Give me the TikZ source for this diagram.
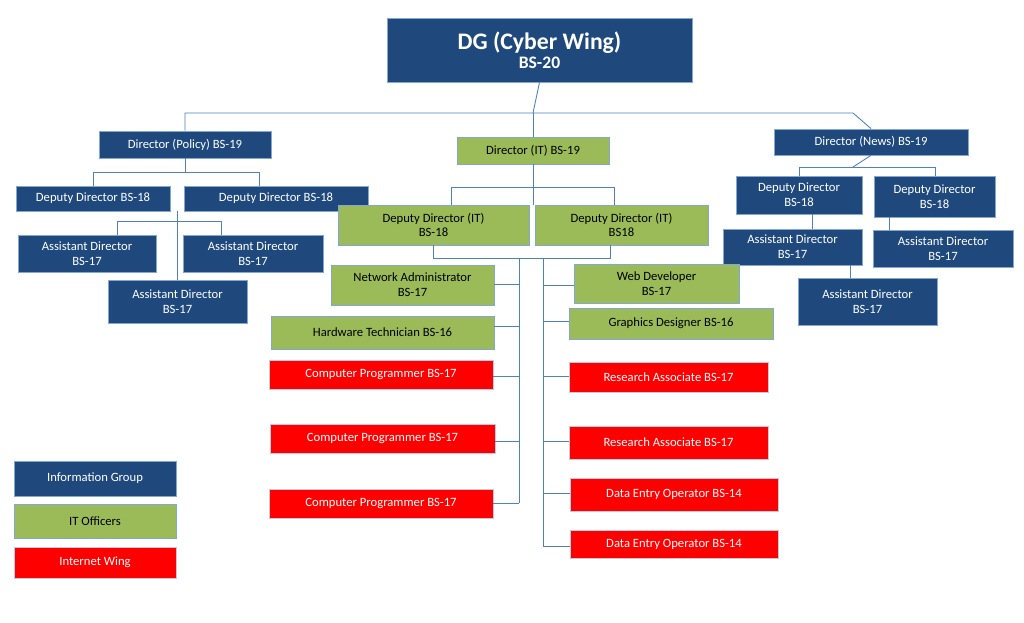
\documentclass[tikz,border=0pt]{standalone}
\usepackage{fontspec}
\setmainfont{Carlito}
\begin{document}
\definecolor{db}{HTML}{1F497D}
\definecolor{gr}{HTML}{9BBB59}
\definecolor{rd}{HTML}{FF0000}
\definecolor{ln}{HTML}{4F81BD}
\begin{tikzpicture}[x=0.02cm,y=-0.02cm,
  base/.style={rectangle,inner sep=0pt,align=center,font=\fontsize{7.2}{8.4}\selectfont},
  blue/.style={base,fill=db,draw=ln!70!white,text=white},
  green/.style={base,fill=gr,draw=ln!70!white,text=black},
  red/.style={base,fill=rd,draw=ln!40!white,text=white},
  con/.style={draw=ln,line width=0.5pt}]
\useasboundingbox[fill=white] (0,0) rectangle (1024,622);
\newcommand\bx[7]{\node[#6,minimum width={(#4-#2)*0.02cm},minimum height={(#5-#3)*0.02cm}] (#1) at ({(#2+#4)/2},{(#3+#5)/2}) {#7};}
\bx{dg}{387}{18}{692}{82}{blue}{{\fontsize{13.5}{15}\selectfont\bfseries DG (Cyber Wing)}\\[1pt]{\fontsize{10}{12}\selectfont\bfseries BS-20}}
\bx{dp}{99}{131}{271}{158}{blue}{Director (Policy) BS-19}
\bx{dit}{457}{137}{609}{164}{green}{Director (IT) BS-19}
\bx{dn}{774}{129}{968}{155}{blue}{Director (News) BS-19}
\bx{pd1}{16}{186}{170}{211}{blue}{Deputy Director BS-18}
\bx{pd2}{184}{186}{368}{211}{blue}{Deputy Director BS-18}
\bx{pa1}{18}{235}{156}{272}{blue}{Assistant Director\\BS-17}
\bx{pa2}{183}{235}{323}{272}{blue}{Assistant Director\\BS-17}
\bx{pa3}{108}{280}{247}{323}{blue}{Assistant Director\\BS-17}
\bx{id1}{338}{205}{529}{245}{green}{Deputy Director (IT)\\BS-18}
\bx{id2}{535}{205}{708}{245}{green}{Deputy Director (IT)\\BS18}
\bx{nd1}{736}{176}{862}{214}{blue}{Deputy Director\\BS-18}
\bx{nd2}{874}{176}{995}{217}{blue}{Deputy Director\\BS-18}
\bx{na1}{723}{229}{862}{265}{blue}{Assistant Director\\BS-17}
\bx{na2}{873}{230}{1013}{267}{blue}{Assistant Director\\BS-17}
\bx{na3}{798}{278}{937}{325}{blue}{Assistant Director\\BS-17}
\bx{l1}{331}{265}{494}{305}{green}{Network Administrator\\BS-17}
\bx{l2}{271}{316}{494}{349}{green}{Hardware Technician BS-16}
\bx{l3}{269}{360}{493}{389}{red}{Computer Programmer BS-17}
\bx{l4}{270}{424}{495}{453}{red}{Computer Programmer BS-17}
\bx{l5}{269}{489}{493}{518}{red}{Computer Programmer BS-17}
\bx{r1}{574}{264}{739}{303}{green}{Web Developer\\BS-17}
\bx{r2}{569}{308}{773}{339}{green}{Graphics Designer BS-16}
\bx{r3}{569}{362}{768}{392}{red}{Research Associate BS-17}
\bx{r4}{569}{426}{768}{459}{red}{Research Associate BS-17}
\bx{r5}{570}{478}{778}{511}{red}{Data Entry Operator BS-14}
\bx{r6}{570}{530}{778}{558}{red}{Data Entry Operator BS-14}
\bx{g1}{14}{461}{176}{496}{blue}{Information Group}
\bx{g2}{14}{504}{176}{538}{green}{IT Officers}
\bx{g3}{14}{547}{176}{578}{red}{Internet Wing}
% top
\draw[con] (dg.south) -- (533,113) coordinate (t);
\draw[con] (dp.north) -- (185,113) -- (853,113) -- (dn.north);
\draw[con] (t) -- (dit.north);
\draw[con] (dit.south) -- (533,205);
\draw[con] (id1.north -| 451,0) -- (451,187) -- (614,187) -- (id2.north -| 614,0);
% policy
\draw[con] (dp.south) -- (185,172);
\draw[con] (pd1.north -| 93,0) -- (93,172) -- (259,172) -- (pd2.north -| 259,0);
\draw[con] (pa1.north -| 117,0) -- (117,221) -- (221,221) -- (pa2.north -| 221,0);
\draw[con] (177,211) -- (pa3.north -| 177,0);
% news
\draw[con] (dn.south) -- (853,167);
\draw[con] (nd1.north -| 799,0) -- (799,167) -- (935,167) -- (nd2.north -| 935,0);
\draw[con] (nd1.south -| 812,0) -- (na1.north -| 812,0);
\draw[con] (nd2.south -| 889,0) -- (na2.north -| 889,0);
\draw[con] (na1.south -| 850,0) -- (na3.north -| 850,0);
% IT staff
\draw[con] (id1.south -| 433,0) -- (433,258) -- (610,258) -- (id2.south -| 610,0);
\draw[con] (519,258) -- (519,503) coordinate (lb);
\draw[con] (543,258) -- (543,546) coordinate (rb);
\foreach \n/\y in {l1/284,l2/326,l3/376,l4/441,l5/503} \draw[con] (519,\y) -- (\n.east |- 0,\y);
\foreach \n/\y in {r1/285,r2/321,r3/376,r4/441,r5/493,r6/546} \draw[con] (543,\y) -- (\n.west |- 0,\y);
\end{tikzpicture}
\end{document}
